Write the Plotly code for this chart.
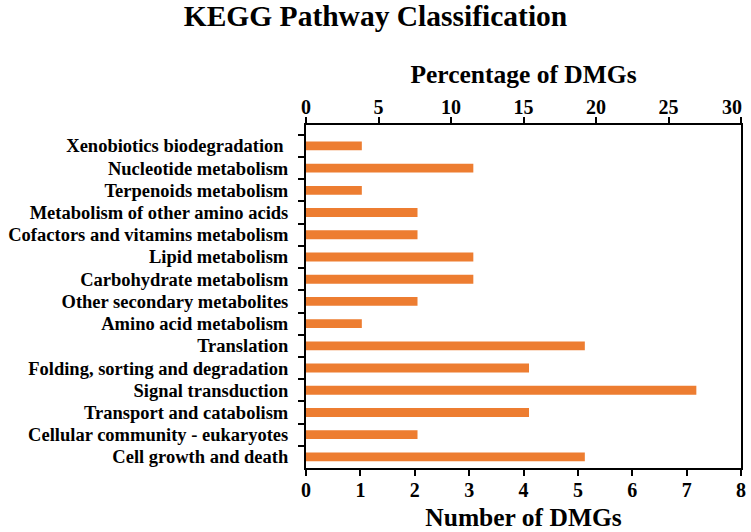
import plotly.graph_objects as go

categories = [
    "Xenobiotics biodegradation ",
    "Nucleotide metabolism",
    "Terpenoids metabolism",
    "Metabolism of other amino acids",
    "Cofactors and vitamins metabolism",
    "Lipid metabolism",
    "Carbohydrate metabolism",
    "Other secondary metabolites",
    "Amino acid metabolism",
    "Translation",
    "Folding, sorting and degradation",
    "Signal transduction",
    "Transport and catabolism",
    "Cellular community - eukaryotes",
    "Cell growth and death",
]
# percentage of DMGs (top axis)
percentages = [3.85, 11.54, 3.85, 7.69, 7.69, 11.54, 11.54, 7.69, 3.85,
               19.23, 15.38, 26.92, 15.38, 7.69, 19.23]
count_ticks = [0, 1, 2, 3, 4, 5, 6, 7, 8]
pct_ticks = [0, 5, 10, 15, 20, 25, 30]
pct_labels = ["0", "5", "10", "15", "20", "25", "30"]

FONT = "Liberation Serif"
BAR = "#ED7D31"

def bold(size):
    return dict(family=FONT, size=size, color="black", weight="bold")

fig = go.Figure()
fig.add_trace(go.Bar(
    y=categories, x=percentages, orientation="h",
    xaxis="x2", yaxis="y",
    marker=dict(color=BAR, line=dict(width=0)),
    width=0.4, showlegend=False,
))
# invisible trace to keep the bottom axis
fig.add_trace(go.Scatter(x=[None], y=[categories[0]], xaxis="x", yaxis="y",
                         mode="markers", showlegend=False, hoverinfo="skip"))

# last top tick label is right-aligned at the axis end (as in the reference)
pct_ticktext = pct_labels[:-1] + [""]
fig.add_annotation(x=pct_ticks[-1], y=1, xref="x2", yref="paper",
                   text=pct_labels[-1], showarrow=False,
                   xanchor="right", yanchor="bottom", xshift=3, yshift=5,
                   font=bold(20))

fig.update_layout(
    width=751, height=532,
    margin=dict(l=306, r=10, t=125, b=64),
    paper_bgcolor="white", plot_bgcolor="white",
    font=dict(family=FONT, color="black"),
    title=dict(text="KEGG Pathway Classification", x=0.5, xanchor="center",
               y=0.99, yanchor="top", pad=dict(t=0), font=bold(29.5)),
    xaxis=dict(
        range=[0, 8], tickvals=count_ticks, showgrid=False, zeroline=False,
        showline=True, linecolor="black", linewidth=2, automargin=False,
        ticks="outside", ticklen=6, tickwidth=2, tickcolor="black",
        tickfont=bold(20), ticklabelstandoff=-3,
        title=dict(text="Number of DMGs", font=bold(25.5), standoff=13),
    ),
    xaxis2=dict(
        range=[0, 30], tickvals=pct_ticks, ticktext=pct_ticktext,
        overlaying="x", side="top",
        showgrid=False, zeroline=False, automargin=False,
        showline=True, linecolor="black", linewidth=2,
        ticks="outside", ticklen=6, tickwidth=2, tickcolor="black",
        tickfont=bold(20), ticklabelstandoff=-5,
        title=dict(text="Percentage of DMGs", font=bold(25.5), standoff=5),
    ),
    yaxis=dict(
        categoryorder="array", categoryarray=categories, autorange="reversed",
        tickmode="linear", tick0=0, dtick=1,
        showgrid=False, zeroline=False, automargin=False,
        showline=True, linecolor="black", linewidth=2, mirror=True,
        ticks="outside", ticklen=6, tickwidth=2, tickcolor="black",
        tickson="boundaries", ticklabelstandoff=12,
        tickfont=bold(18.5),
    ),
    bargap=0.6,
)

fig.write_html("out.html", config={"displayModeBar": False},
               post_script="document.body.style.margin='0';")
